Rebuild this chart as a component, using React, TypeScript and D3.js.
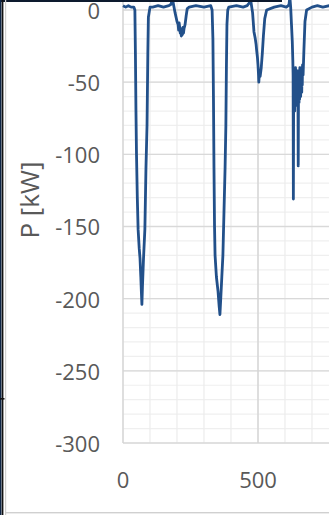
import React from "react";
import * as d3 from "d3";

const width = 329;
const height = 515;

// time [s] and power [kW]
const timeS = [
  0, 10, 20, 30, 40, 44, 46, 48, 50, 53, 56, 60, 63, 66, 68, 70, 72, 76, 81, 85, 89, 92, 94, 100,
  110, 130, 150, 170, 178, 183, 188, 193, 200, 204, 206, 208, 210, 212, 214, 216, 218, 220, 222, 224, 226, 230, 234, 238, 245,
  270, 300, 325, 330, 333, 335, 337, 339, 341, 346, 352, 356, 359, 362, 366, 370, 374, 378, 381, 383, 385, 388, 392,
  420, 445, 460, 468, 472, 476, 480, 485, 490, 493, 495, 498, 500, 502, 503, 505, 508, 512, 516, 520, 525, 532,
  560, 585, 605, 612, 615, 618, 621, 624, 627, 629, 630, 631, 632, 633, 634, 635, 636, 637, 638, 639, 640, 641, 642, 643,
  644, 645, 646, 647, 648, 649, 650, 651, 652, 653, 654, 655, 656, 657, 658, 659, 660, 661, 662, 663, 664, 665, 667,
  670, 674, 680, 700, 720, 740, 765, 790
];
const powerKW = [
  3, 2, 3, 2, 2, 0, -30, -70, -100, -130, -152, -165, -172, -185, -195, -204, -192, -172, -152, -110, -80, -30, -5, 2,
  2, 3, 2, 3, 4, 8, 3, -2, -8, -10, -14, -9, -12, -16, -13, -18, -15, -17, -12, -16, -13, -10, -4, 1, 2,
  3, 2, 3, 0, -20, -60, -110, -150, -170, -185, -195, -205, -211, -200, -185, -170, -140, -110, -80, -40, -10, 0, 2,
  3, 2, 3, 5, 8, 3, -2, -15, -20, -24, -28, -33, -38, -45, -50, -44, -46, -40, -30, -18, -6, 0, 2,
  3, 2, 3, 4, 9, 2, -10, -22, -35, -45, -131, -60, -42, -68, -44, -70, -46, -64, -40, -62, -45, -66, -42, -63,
  -48, -61, -44, -60, -108, -55, -42, -64, -46, -62, -40, -58, -45, -60, -42, -55, -40, -57, -44, -52, -38, -45, -28,
  -8, 0, 2, 3, 2, 3, 2, 3
];

const yMajor = [0, -50, -100, -150, -200, -250, -300];
const yMinor = d3.range(0, -301, -10);
const xMajor = [0, 500];
const xMinor = d3.range(0, 1001, 100);

const data = timeS.map((t, i) => ({ t, p: powerKW[i] }));

const x = d3.scaleLinear().domain([0, 1000]).range([123, 393]);
const y = d3.scaleLinear().domain([-300, 0]).range([443, 10]);

const line = d3
  .line<{ t: number; p: number }>()
  .x(d => x(d.t))
  .y(d => y(d.p));

const font = "'Open Sans', sans-serif";

export default function App() {
  const top = y(50);
  return (
    <svg
      width={width}
      height={height}
      style={{ position: "absolute", left: 0, top: 0, background: "#fff" }}
    >
      {/* minor grid */}
      {yMinor.map(v => (
        <line key={"ym" + v} x1={x(0)} x2={width} y1={y(v)} y2={y(v)} stroke="#efefef" strokeWidth={1.2} />
      ))}
      {xMinor.map(v => (
        <line key={"xm" + v} x1={x(v)} x2={x(v)} y1={top} y2={y(-300)} stroke="#ececec" strokeWidth={1.2} />
      ))}
      {/* major grid */}
      {yMajor.map(v => (
        <line key={"yM" + v} x1={x(0)} x2={width} y1={y(v)} y2={y(v)} stroke="#d9d9d9" strokeWidth={1.4} />
      ))}
      {xMajor.map(v => (
        <line key={"xM" + v} x1={x(v)} x2={x(v)} y1={top} y2={y(-300)} stroke="#d4d4d4" strokeWidth={1.4} />
      ))}

      <path d={line(data) || ""} fill="none" stroke="#22508a" strokeWidth={2.8} strokeLinejoin="round" />

      {/* tick labels */}
      {yMajor.map(v => (
        <text key={"yl" + v} x={100} y={y(v) + 1} dy="0.36em" textAnchor="end" fontFamily={font} fontSize={22} fill="#595959">
          {v}
        </text>
      ))}
      {xMajor.map(v => (
        <text key={"xl" + v} x={x(v)} y={480} dy="0.36em" textAnchor="middle" fontFamily={font} fontSize={22} fill="#595959">
          {v}
        </text>
      ))}
      <text
        transform="translate(30,200) rotate(-90)"
        dy="0.36em"
        textAnchor="middle"
        fontFamily={font}
        fontSize={26}
        fill="#595959"
      >
        P [kW]
      </text>

      {/* frame edges of the screenshot */}
      <rect x={0} y={0} width={282} height={2} fill="#0d1a2e" />
      <rect x={0} y={0} width={1.5} height={height} fill="#0e2545" />
      <rect x={1.8} y={0} width={1.6} height={height} fill="#111" />
      <rect x={5} y={0} width={1.2} height={height} fill="#d0d0d0" />
      <rect x={0} y={398} width={4.5} height={1.6} fill="#111" />
      <rect x={5} y={512} width={width} height={1.4} fill="#d0d0d0" />
    </svg>
  );
}
